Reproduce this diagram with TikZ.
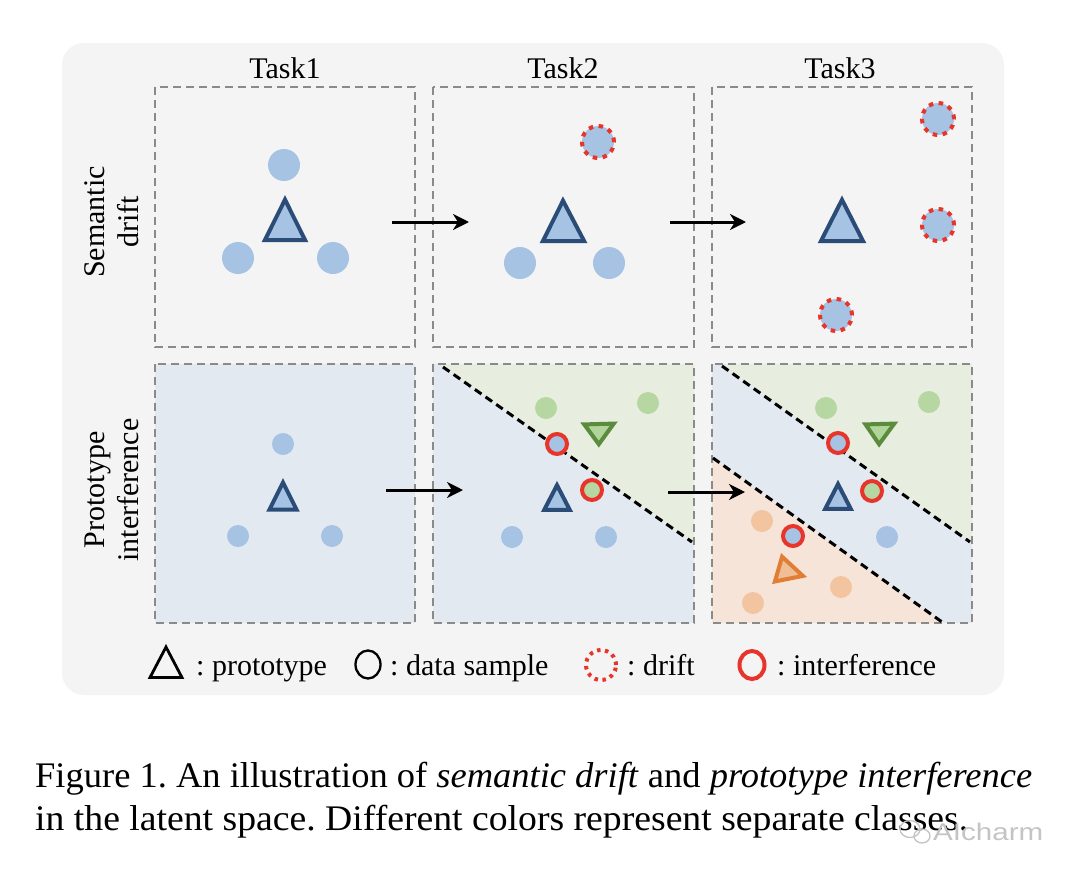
\documentclass[tikz,border=0pt]{standalone}
\usepackage{fontspec}
\usepackage{graphicx}
\setmainfont{Liberation Serif}
\newfontfamily\wmfont{Liberation Sans}
\usetikzlibrary{arrows.meta}
\definecolor{bgpanel}{HTML}{F4F4F4}
\definecolor{panelgray}{HTML}{8A8A8A}
\definecolor{dotblue}{HTML}{A6C3E3}
\definecolor{darkblue}{HTML}{2C4C78}
\definecolor{regblue}{HTML}{E3E9F1}
\definecolor{reggreen}{HTML}{E7EEDF}
\definecolor{regorange}{HTML}{F6E4D9}
\definecolor{dotgreen}{HTML}{B6D7A2}
\definecolor{darkgreen}{HTML}{5B8C3E}
\definecolor{dotorange}{HTML}{F2C4A0}
\definecolor{darkorange}{HTML}{E27D35}
\definecolor{trigreen}{HTML}{B0D49A}
\definecolor{triorange}{HTML}{F0BE96}
\definecolor{ringred}{HTML}{E8352B}
\definecolor{wmgray}{HTML}{C4C4C4}
\frenchspacing
\begin{document}
\begin{tikzpicture}[x=1pt,y=-1pt,
  panelbox/.style={draw=panelgray, line width=2pt, dash pattern=on 8pt off 5pt},
  divider/.style={draw=black, line width=3pt, dash pattern=on 8pt off 5pt},
  bigdot/.style={circle, inner sep=0pt, minimum size=32pt, fill=dotblue},
  smalldot/.style={circle, inner sep=0pt, minimum size=22pt},
  driftdot/.style={circle, inner sep=0pt, minimum size=32pt, fill=dotblue, draw=ringred, line width=4pt, dash pattern=on 4.5pt off 5.5pt},
  interf/.style={circle, inner sep=0pt, minimum size=20pt, draw=ringred, line width=4pt},
  protob/.style={draw=darkblue, fill=dotblue, line width=4pt, line join=miter},
  protog/.style={draw=darkgreen, fill=trigreen, line width=4pt, line join=miter},
  protoo/.style={draw=darkorange, fill=triorange, line width=4pt, line join=miter},
  arr/.style={draw=black, line width=3pt, -{Stealth[length=16pt,width=16pt,inset=5pt]}},
  lbl/.style={font=\fontsize{30}{34}\selectfont, inner sep=0pt},
  captext/.style={font=\fontsize{36}{43}\selectfont, inner sep=0pt, anchor=base west}
]
\useasboundingbox (0,0) rectangle (1080,876);
\fill[white] (0,0) rectangle (1080,876);
\fill[bgpanel, rounded corners=22pt] (62,43) rectangle (1004,695);

% column and row labels
\node[lbl, anchor=base] (t1) at (285,78) {Task1};
\node[lbl, anchor=base] (t2) at (563,78) {Task2};
\node[lbl, anchor=base] (t3) at (840,78) {Task3};
\node[lbl, rotate=90, align=center] (r1) at (112,222) {Semantic\\drift};
\node[lbl, rotate=90, align=center] (r2) at (112,490) {Prototype\\interference};

% ---------- top row ----------
\draw[panelbox] (155,87) rectangle (415,347);
\draw[panelbox] (433,87) rectangle (694,347);
\draw[panelbox] (712,87) rectangle (972,347);

% Task1
\node[bigdot] (s1a) at (284,165) {};
\node[bigdot] (s1b) at (238,258) {};
\node[bigdot] (s1c) at (333,258) {};
\draw[protob] (285,199.7) -- (305.2,240.2) -- (264.8,240.2) -- cycle;
% Task2
\node[driftdot] (s2a) at (598,142) {};
\node[bigdot] (s2b) at (520,263) {};
\node[bigdot] (s2c) at (609,263) {};
\draw[protob] (563,200.7) -- (584.2,241.2) -- (542.8,241.2) -- cycle;
% Task3
\node[driftdot] (s3a) at (938,119) {};
\node[driftdot] (s3b) at (938,225) {};
\node[driftdot] (s3c) at (836,315) {};
\draw[protob] (842,199.8) -- (863.1,241.2) -- (820.9,241.2) -- cycle;

\coordinate (ta1s) at (392,222); \coordinate (ta1e) at (469,222);
\coordinate (ta2s) at (670,222); \coordinate (ta2e) at (746,222);
\draw[arr] (ta1s) -- (ta1e);
\draw[arr] (ta2s) -- (ta2e);

% ---------- bottom row ----------
% Task1
\fill[regblue] (155,364) rectangle (415,623);
\draw[panelbox] (155,364) rectangle (415,623);
\node[smalldot, fill=dotblue] (b1a) at (283,444) {};
\node[smalldot, fill=dotblue] (b1b) at (238,536) {};
\node[smalldot, fill=dotblue] (b1c) at (332,536) {};
\draw[protob] (283,482.5) -- (296.6,509.7) -- (269.4,509.7) -- cycle;

% Task2
\fill[regblue] (433,364) rectangle (694,623);
\fill[reggreen] (439,364) -- (694,364) -- (694,543.5) -- cycle;
\draw[panelbox] (433,364) rectangle (694,623);
\coordinate (d2s) at (443,367); \coordinate (d2e) at (692,542);
\draw[divider] (d2s) -- (d2e);
\node[smalldot, fill=dotgreen] (b2g1) at (546,408) {};
\node[smalldot, fill=dotgreen] (b2g2) at (648,403) {};
\draw[protog] (584.2,424.4) -- (613.8,423.6) -- (598.8,444.2) -- cycle;
\node[interf, fill=dotblue] (b2i1) at (557,444) {};
\node[interf, fill=dotgreen] (b2i2) at (592,490) {};
\draw[protob] (557,485.2) -- (569.8,509.9) -- (544.2,509.9) -- cycle;
\node[smalldot, fill=dotblue] (b2b1) at (512,537) {};
\node[smalldot, fill=dotblue] (b2b2) at (606,537) {};

% Task3
\fill[regblue] (712,364) rectangle (972,623);
\fill[reggreen] (721,364) -- (972,364) -- (972,543.5) -- cycle;
\fill[regorange] (712,457) -- (943,623) -- (712,623) -- cycle;
\draw[panelbox] (712,364) rectangle (972,623);
\coordinate (d3as) at (722,366); \coordinate (d3ae) at (970,542);
\coordinate (d3bs) at (713,458); \coordinate (d3be) at (942,622);
\draw[divider] (d3as) -- (d3ae);
\draw[divider] (d3bs) -- (d3be);
\node[smalldot, fill=dotgreen] (b3g1) at (826,408) {};
\node[smalldot, fill=dotgreen] (b3g2) at (929,402) {};
\draw[protog] (865.5,424.4) -- (894.3,423.6) -- (879.1,444.2) -- cycle;
\node[interf, fill=dotblue] (b3i1) at (838,443) {};
\node[interf, fill=dotgreen] (b3i2) at (872,491) {};
\draw[protob] (838,484.1) -- (850.8,508.9) -- (825.2,508.9) -- cycle;
\node[smalldot, fill=dotblue] (b3b1) at (887,537) {};
\node[smalldot, fill=dotorange] (b3o1) at (762,521) {};
\node[smalldot, fill=dotorange] (b3o2) at (841,587) {};
\node[smalldot, fill=dotorange] (b3o3) at (753,603) {};
\node[interf, fill=dotblue] (b3i3) at (793,536) {};
\draw[protoo] (782.1,556.7) -- (802.9,575.9) -- (774.9,581.5) -- cycle;

\coordinate (ba1s) at (386,490); \coordinate (ba1e) at (463,490);
\coordinate (ba2s) at (668,492); \coordinate (ba2e) at (745,492);
\draw[arr] (ba1s) -- (ba1e);
\draw[arr] (ba2s) -- (ba2e);

% ---------- legend ----------
\draw[black, line width=2.8pt, line join=miter] (166,647) -- (182,677.5) -- (150,677.5) -- cycle;
\node[lbl, anchor=base west] (lg1) at (196,675) {: prototype};
\draw[black, line width=2.3pt] (368,664.5) ellipse [x radius=12.5pt, y radius=14pt];
\node[lbl, anchor=base west] (lg2) at (390,675) {: data sample};
\draw[ringred, line width=4pt, dash pattern=on 3.5pt off 4.5pt] (601,665) circle [radius=15pt];
\node[lbl, anchor=base west] (lg3) at (627,675) {: drift};
\draw[ringred, line width=4pt] (752,665) ellipse [x radius=12.5pt, y radius=14pt];
\node[lbl, anchor=base west] (lg4) at (777,675) {: interference};

% ---------- caption ----------
\node[captext] (c1) at (35,787) {\resizebox{997pt}{\height}{Figure 1. An illustration of \textit{semantic drift} and \textit{prototype interference}}};
\node[captext] (c2) at (35,830) {\resizebox{933pt}{\height}{in the latent space. Different colors represent separate classes.}};

% watermark
\begin{scope}[draw=wmgray, line width=1.3pt]
\draw (910,829) ellipse [x radius=10pt, y radius=8.5pt];
\draw (922,836) ellipse [x radius=8pt, y radius=7pt];
\end{scope}
\node[font=\wmfont\fontsize{24}{28}\selectfont, text=wmgray, anchor=base west, inner sep=0pt] (wm) at (933,840) {\resizebox{110pt}{\height}{AIcharm}};
\end{tikzpicture}
\end{document}
